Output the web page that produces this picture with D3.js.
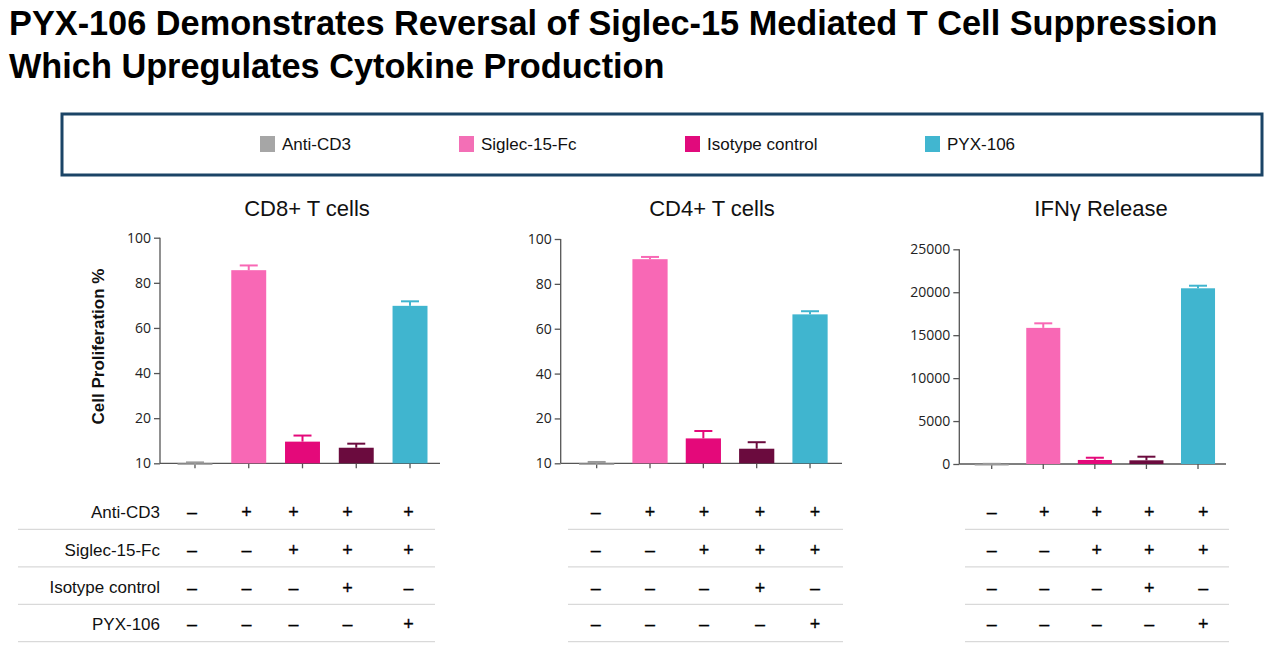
<!DOCTYPE html>
<html><head><meta charset="utf-8">
<script src="https://cdn.jsdelivr.net/npm/d3@7"></script>
<style>
body{margin:0;background:#fff;}
svg{display:block;font-family:"Liberation Sans",Arial,sans-serif;}
</style></head>
<body>
<svg id="chart" width="1282" height="667"></svg>
<script>
// ---------- data ----------
const titleLines = ["PYX-106 Demonstrates Reversal of Siglec-15 Mediated T Cell Suppression",
                    "Which Upregulates Cytokine Production"];
const treatments = ["Anti-CD3", "Siglec-15-Fc", "Isotype control", "PYX-106"];
const legendColors = ["#a6a6a6", "#f36fb6", "#e10a7c", "#41b6d0"];
const groups = ["G1", "G2", "G3", "G4", "G5"];
const barColors = ["#9a9a9a", "#f868b5", "#e4097a", "#6b0b3e", "#40b5cf"];
const panelTitles = ["CD8+ T cells", "CD4+ T cells", "IFNγ Release"];

const cd8Values = [-0.6, 85.6, 9.6, 6.9, 69.8];
const cd8ErrTop = [0.4, 87.7, 12.3, 8.7, 71.8];
const cd4Values = [-0.5, 91.0, 11.1, 6.5, 66.4];
const cd4ErrTop = [0.6, 92.0, 14.4, 9.4, 67.8];
const ifnValues = [-150, 15850, 470, 430, 20460];
const ifnErrTop = [20, 16380, 730, 850, 20760];

const propTickValues = [0, 20, 40, 60, 80, 100];
const propTickLabels = ["10", "20", "40", "60", "80", "100"];
const ifnTickValues = [0, 5000, 10000, 15000, 20000, 25000];
const ifnTickLabels = ["0", "5000", "10000", "15000", "20000", "25000"];

// table: rows = treatments, columns = groups
const tableAntiCD3  = ["–", "+", "+", "+", "+"];
const tableSiglec   = ["–", "–", "+", "+", "+"];
const tableIsotype  = ["–", "–", "–", "+", "–"];
const tablePYX      = ["–", "–", "–", "–", "+"];
const tableRows = [tableAntiCD3, tableSiglec, tableIsotype, tablePYX];

// ---------- layout ----------
const svg = d3.select("#chart");

const title = svg.append("g");
titleLines.forEach((t, i) => {
  title.append("text").attr("x", 9).attr("y", 34.5 + i * 43.5)
    .attr("font-size", 34.3).attr("font-weight", "bold").attr("fill", "#000").text(t);
});

// legend box
svg.append("rect").attr("x", 62).attr("y", 114).attr("width", 1200).attr("height", 61)
  .attr("fill", "#fff").attr("stroke", "#1b4466").attr("stroke-width", 3);
const legendX = [260, 459, 685, 925];
const lg = svg.append("g").selectAll("g").data(treatments).join("g")
  .attr("transform", (d, i) => `translate(${legendX[i]},136)`);
lg.append("rect").attr("width", 15).attr("height", 16).attr("fill", (d, i) => legendColors[i]);
lg.append("text").attr("x", 22).attr("y", 14).attr("font-size", 17).attr("fill", "#111").text(d => d);

const panels = [
  {values: cd8Values, err: cd8ErrTop, ticks: propTickValues, labels: propTickLabels, domain: [0, 100],
   axisX: 160, yTop: 237.7, yBot: 463.3, band: [168.1, 436.9], pad: 0.35, axisEnd: 440,
   titleX: 307, tableCols: [192, 246.5, 293.5, 347.5, 408.5], lineX: [18, 435], rowLabels: true},
  {values: cd4Values, err: cd4ErrTop, ticks: propTickValues, labels: propTickLabels, domain: [0, 100],
   axisX: 560.7, yTop: 239, yBot: 463.3, band: [570, 836.7], pad: 0.34, axisEnd: 842,
   titleX: 712, tableCols: [595.7, 650, 704, 760, 815], lineX: [568, 843], rowLabels: false},
  {values: ifnValues, err: ifnErrTop, ticks: ifnTickValues, labels: ifnTickLabels, domain: [0, 25000],
   axisX: 959.3, yTop: 249.3, yBot: 464, band: [965.9, 1223.8], pad: 0.34, axisEnd: 1226,
   titleX: 1101, tableCols: [991.7, 1044.3, 1096.7, 1149.3, 1203.3], lineX: [965, 1229], rowLabels: false}
];

const axisColor = "#555";
const rowY = [511.5, 549.5, 587, 623.5];
const sepY = [529.3, 566.8, 604.3, 641.7];

panels.forEach((p, pi) => {
  const g = svg.append("g");
  const y = d3.scaleLinear().domain(p.domain).range([p.yBot, p.yTop]);
  const x = d3.scaleBand().domain(groups).range(p.band).paddingInner(p.pad).paddingOuter(p.pad / 2);

  g.append("text").attr("x", p.titleX).attr("y", 216).attr("text-anchor", "middle")
    .attr("font-size", 22).attr("fill", "#111").text(panelTitles[pi]);

  // y axis
  const yAxis = d3.axisLeft(y).tickValues(p.ticks).tickFormat((d, i) => p.labels[i]).tickSize(6).tickPadding(3);
  const ya = g.append("g").attr("transform", `translate(${p.axisX},0)`).call(yAxis);
  ya.select(".domain").attr("stroke", axisColor).attr("stroke-width", 1.3).attr("d", `M0,${p.yTop}V${p.yBot}`);
  ya.selectAll(".tick line").attr("stroke", axisColor).attr("stroke-width", 1.3);
  ya.selectAll(".tick text").attr("font-size", 14).attr("fill", "#222")
    .attr("font-family", "'Open Sans','Liberation Sans',Arial,sans-serif");

  // x axis baseline + ticks
  const xa = g.append("g").attr("transform", `translate(0,${p.yBot})`)
    .call(d3.axisBottom(x).tickSize(5).tickFormat(""));
  xa.select(".domain").attr("stroke", axisColor).attr("stroke-width", 1.3)
    .attr("d", `M${p.axisX},0H${p.axisEnd}`);
  xa.selectAll(".tick line").attr("stroke", axisColor).attr("stroke-width", 1.3);

  // bars
  g.append("g").selectAll("rect").data(p.values).join("rect")
    .attr("x", (d, i) => x(groups[i]))
    .attr("width", x.bandwidth())
    .attr("y", d => Math.min(y(d), y(0)))
    .attr("height", d => Math.max(Math.abs(y(0) - y(d)), 1.5))
    .attr("fill", (d, i) => barColors[i]);

  // error bars
  const eg = g.append("g").selectAll("g").data(p.err).join("g");
  eg.append("line")
    .attr("x1", (d, i) => x(groups[i]) + x.bandwidth() / 2)
    .attr("x2", (d, i) => x(groups[i]) + x.bandwidth() / 2)
    .attr("y1", (d, i) => y(p.values[i]))
    .attr("y2", d => y(d))
    .attr("stroke", (d, i) => barColors[i]).attr("stroke-width", 2);
  eg.append("line")
    .attr("x1", (d, i) => x(groups[i]) + x.bandwidth() / 2 - 9)
    .attr("x2", (d, i) => x(groups[i]) + x.bandwidth() / 2 + 9)
    .attr("y1", d => y(d)).attr("y2", d => y(d))
    .attr("stroke", (d, i) => barColors[i]).attr("stroke-width", 2);

  // table
  const tg = g.append("g");
  tableRows.forEach((row, ri) => {
    if (p.rowLabels) {
      tg.append("text").attr("x", 160).attr("y", rowY[ri] + 6).attr("text-anchor", "end")
        .attr("font-size", 17).attr("fill", "#111").text(treatments[ri]);
    }
    row.forEach((s, ci) => {
      tg.append("text").attr("x", p.tableCols[ci]).attr("y", rowY[ri] + 6.5).attr("text-anchor", "middle")
        .attr("font-size", 18).attr("fill", "#000").attr("stroke", "#000").attr("stroke-width", 0.3).text(s);
    });
    tg.append("line").attr("x1", p.lineX[0]).attr("x2", p.lineX[1])
      .attr("y1", sepY[ri]).attr("y2", sepY[ri]).attr("stroke", "#d9d9d9").attr("stroke-width", 1.3);
  });
});

// y-axis title
svg.append("text").attr("transform", "translate(104,346.5) rotate(-90)")
  .attr("text-anchor", "middle").attr("font-size", 17).attr("font-weight", "bold").attr("fill", "#111")
  .text("Cell Proliferation %");
</script>
</body></html>
